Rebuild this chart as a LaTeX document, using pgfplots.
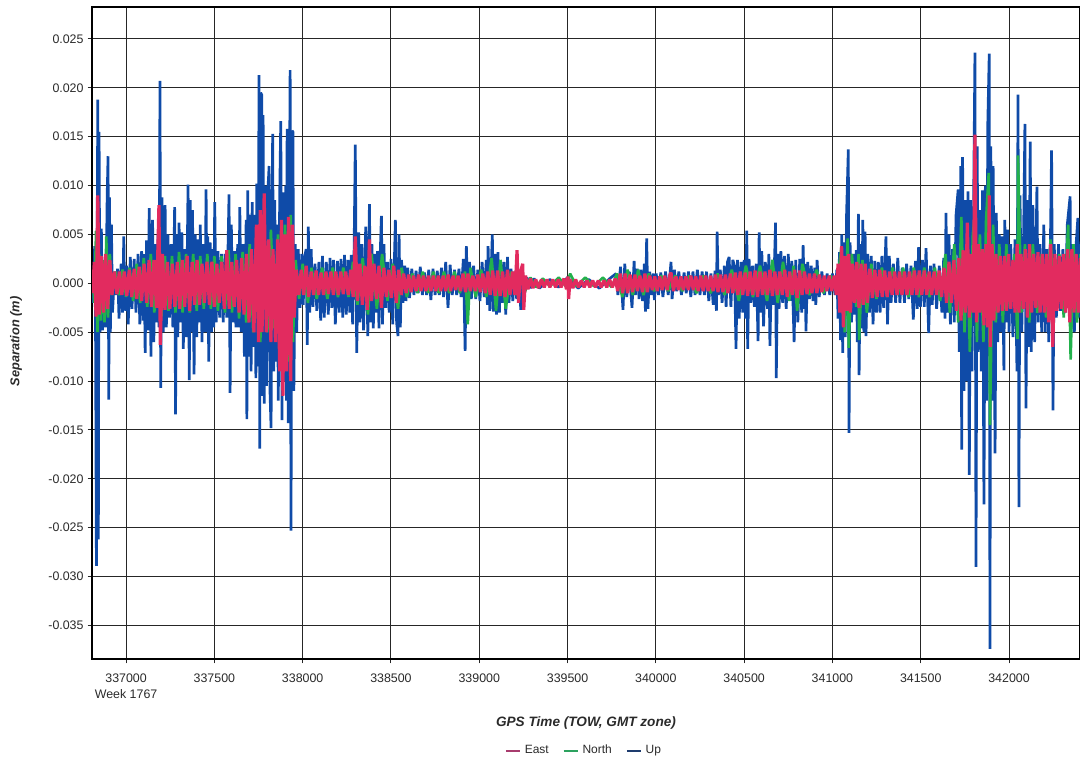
\documentclass[border=0pt]{standalone}
\usepackage{pgfplots}
\pgfplotsset{compat=1.18}
\usepackage{fontspec}
\setmainfont{Liberation Sans}
\definecolor{upc}{HTML}{0F4BA8}
\definecolor{northc}{HTML}{22B14C}
\definecolor{eastc}{HTML}{E22B5F}
\definecolor{gridc}{HTML}{262626}
\definecolor{txtc}{HTML}{2A2A2A}
\begin{document}
\begin{tikzpicture}
\useasboundingbox (0,0) rectangle (540pt,380.5pt);
\begin{axis}[
  at={(46pt,51pt)},anchor=south west,scale only axis,width=494pt,height=326pt,
  xmin=336807,xmax=342402,ymin=-0.03843,ymax=0.02827,
  xtick={337000,337500,338000,338500,339000,339500,340000,340500,341000,341500,342000},
  ytick={-0.035,-0.03,-0.025,-0.02,-0.015,-0.01,-0.005,0,0.005,0.01,0.015,0.02,0.025},
  tick align=outside,tick pos=left,major tick length=2.2pt,
  tick style={gridc,line width=0.5pt},
  grid=major,grid style={gridc,line width=0.5pt},
  axis line style={black,line width=1.1pt},
  scaled ticks=false,
  xticklabel style={/pgf/number format/.cd,assume math mode=true,1000 sep={},fixed,precision=0},
  yticklabel style={xshift=1.5pt,/pgf/number format/.cd,assume math mode=true,fixed,fixed zerofill,precision=3},
  tick label style={font=\fontsize{6.2}{7}\selectfont,text=txtc},
  xticklabel shift=1.5pt,
  xlabel={GPS Time (TOW, GMT zone)},
  ylabel={Separation (m)},
  label style={text=txtc},
  xlabel style={font=\fontsize{6.8}{7}\bfseries\itshape\selectfont,at={(axis description cs:0.5,-0.0985)},anchor=center},
  ylabel style={font=\fontsize{6.4}{7}\bfseries\itshape\selectfont,at={(axis description cs:-0.0769,0.487)},anchor=center},
  legend columns=3,
  legend image code/.code={\draw[#1] (0pt,0pt) -- (7pt,0pt);},
  legend style={draw=none,fill=none,at={(axis description cs:0.499,-0.1411)},anchor=center,font=\fontsize{6}{7}\selectfont,text=txtc,/tikz/every even column/.append style={column sep=5pt},inner sep=0pt},
  legend cell align=left,
  clip mode=individual,
]
\addlegendimage{line width=0.9pt,color={rgb,255:red,168;green,60;blue,110}}\addlegendentry{East}
\addlegendimage{line width=0.9pt,color={rgb,255:red,44;green,162;blue,95}}\addlegendentry{North}
\addlegendimage{line width=0.9pt,color={rgb,255:red,30;green,60;blue,110}}\addlegendentry{Up}
% Up
\addplot[forget plot,upc,line width=1.35pt,line join=bevel] coordinates {
(336812,0.0009)(336816,-0.0020)(336822,0.0038)(336827,-0.0040)(336832,-0.0289)(336836,0.0040)(336840,0.0188)(336843,-0.0262)(336847,0.0155)(336852,-0.0050)(336860,0.0056)(336866,-0.0048)(336876,0.0023)(336884,-0.0045)(336893,0.0090)(336898,0.0130)(336902,-0.0119)(336906,0.0088)(336911,-0.0050)(336917,0.0060)(336923,-0.0030)(336935,0.0012)(336943,-0.0012)(336952,0.0015)(336960,-0.0036)(336972,0.0020)(336980,-0.0030)(336987,0.0048)(336993,-0.0028)(337003,0.0018)(337012,-0.0042)(337024,0.0027)(337033,-0.0026)(337046,0.0025)(337056,-0.0030)(337068,0.0030)(337078,-0.0042)(337088,0.0033)(337097,-0.0038)
(337102,0.0030)(337108,-0.0071)(337116,0.0044)(337124,-0.0048)(337131,0.0077)(337141,-0.0075)(337150,0.0065)(337157,-0.0060)(337165,0.0040)(337173,-0.0040)(337181,0.0050)(337187,-0.0045)(337192,0.0207)(337196,-0.0107)(337203,0.0088)(337210,-0.0050)(337221,0.0080)(337228,-0.0045)(337237,0.0050)(337246,-0.0035)(337255,0.0040)(337265,-0.0045)(337275,0.0078)(337280,-0.0134)(337287,0.0050)(337293,-0.0055)(337300,0.0062)(337308,-0.0040)(337316,0.0052)(337324,-0.0067)(337333,0.0035)(337341,-0.0055)(337351,0.0101)(337358,-0.0099)(337363,0.0085)(337370,-0.0050)(337376,0.0075)(337385,-0.0093)(337392,0.0050)(337400,-0.0055)(337408,0.0045)(337415,-0.0040)(337420,0.0060)(337430,-0.0060)(337438,0.0040)(337446,-0.0050)(337453,0.0096)(337459,-0.0050)(337463,0.0048)(337468,-0.0080)(337476,0.0042)(337484,-0.0050)(337490,0.0035)(337496,-0.0045)(337502,0.0083)(337510,-0.0040)(337520,0.0033)(337530,-0.0035)(337540,0.0030)(337550,-0.0040)(337560,0.0030)(337570,-0.0035)(337583,0.0091)(337589,-0.0112)(337596,0.0060)(337604,-0.0040)(337614,0.0033)(337622,-0.0045)(337632,0.0040)(337638,-0.0045)(337644,0.0078)(337652,-0.0050)(337662,0.0040)(337670,-0.0075)(337680,0.0065)(337684,-0.0139)(337689,0.0095)(337695,-0.0075)(337704,0.0070)(337708,-0.0090)(337714,0.0083)(337720,-0.0065)(337730,0.0070)(337735,-0.0097)(337740,0.0102)(337747,-0.0085)(337753,0.0213)(337757,-0.0169)(337762,0.0195)(337768,0.0193)(337772,-0.0115)(337776,0.0172)(337782,-0.0123)(337790,0.0100)(337795,-0.0105)(337803,0.0095)(337810,0.0120)(337815,-0.0110)(337821,-0.0148)(337830,0.0153)(337836,-0.0090)(337842,0.0085)(337848,-0.0080)(337856,0.0060)(337862,-0.0120)(337870,0.0090)(337876,0.0166)(337883,-0.0140)(337890,0.0093)(337896,-0.0100)(337904,0.0100)(337908,-0.0120)(337912,0.0158)(337918,-0.0143)(337925,0.0090)(337929,0.0218)(337934,-0.0253)(337940,0.0156)(337945,0.0155)(337950,-0.0110)(337958,0.0040)(337966,-0.0050)
(337975,0.0035)(337985,-0.0025)(337995,0.0030)(338003,-0.0022)(338012,0.0028)(338020,0.0035)(338026,-0.0063)(338032,0.0058)(338040,-0.0030)(338048,0.0035)(338058,-0.0024)(338070,0.0020)(338080,-0.0028)(338092,0.0022)(338102,-0.0038)(338112,0.0028)(338122,-0.0035)(338134,0.0022)(338145,-0.0032)(338155,0.0026)(338165,-0.0025)(338175,0.0024)(338185,-0.0042)(338197,0.0023)(338207,-0.0030)(338217,0.0025)(338227,-0.0035)(338237,0.0029)(338247,-0.0032)(338257,0.0024)(338267,-0.0030)(338275,0.0029)(338283,-0.0042)(338291,0.0030)(338298,0.0142)(338306,-0.0071)(338317,0.0052)(338325,-0.0040)(338335,0.0040)(338345,-0.0048)(338357,0.0058)(338369,-0.0054)(338378,0.0081)(338385,-0.0040)(338392,0.0040)(338400,-0.0046)(338408,0.0030)(338416,-0.0030)(338424,0.0033)(338432,-0.0046)(338440,0.0035)(338446,0.0069)(338452,-0.0042)(338460,0.0040)(338470,-0.0025)(338480,0.0022)(338490,-0.0030)(338500,0.0025)(338510,-0.0042)(338519,0.0020)(338525,0.0065)(338532,-0.0040)(338540,-0.0054)(338546,0.0050)(338553,-0.0045)(338560,0.0024)(338568,-0.0020)(338578,0.0018)(338585,-0.0018)(338595,0.0016)
(338605,-0.0015)(338618,0.0015)(338630,-0.0012)(338642,0.0013)(338654,-0.0010)(338666,0.0017)(338678,-0.0012)(338690,0.0011)(338702,-0.0012)(338714,0.0014)(338726,-0.0017)(338738,0.0015)(338750,-0.0012)(338762,0.0013)(338774,-0.0012)(338786,0.0016)(338798,-0.0014)(338810,0.0022)(338823,-0.0025)(338835,0.0019)(338847,-0.0012)(338860,0.0014)(338872,-0.0012)(338885,0.0015)(338897,-0.0014)(338910,0.0025)(338920,-0.0069)(338927,0.0038)(338935,-0.0020)(338945,0.0022)(338955,-0.0016)(338968,0.0018)(338980,-0.0016)(338992,0.0014)(339004,-0.0018)(339016,0.0022)(339028,-0.0014)(339040,0.0024)(339046,-0.0022)(339050,0.0038)(339060,-0.0028)(339074,0.0050)(339080,-0.0029)(339090,0.0030)(339098,-0.0032)(339106,0.0032)(339114,-0.0030)(339122,0.0022)(339130,-0.0020)(339140,0.0022)(339150,-0.0032)(339160,0.0027)(339168,-0.0020)(339180,0.0015)(339190,-0.0018)(339200,0.0012)(339212,-0.0016)(339225,0.0012)(339235,-0.0027)(339245,0.0010)(339255,-0.0012)(339270,0.0006)(339290,-0.0005)(339310,0.0005)(339340,-0.0005)(339400,0.0004)(339450,-0.0004)(339500,0.0006)(339560,-0.0005)(339620,0.0004)(339680,-0.0005)(339740,0.0005)(339775,0.0010)(339785,-0.0012)
(339800,0.0017)(339814,-0.0027)(339824,0.0020)(339835,-0.0014)(339850,0.0012)(339865,-0.0025)(339877,0.0023)(339884,-0.0012)(339895,0.0015)(339905,-0.0016)(339915,0.0014)(339925,-0.0018)(339935,0.0020)(339941,-0.0029)(339948,0.0046)(339955,-0.0026)(339965,0.0012)(339975,-0.0012)(339985,0.0010)(339992,-0.0017)(340002,0.0010)(340015,-0.0012)(340028,0.0011)(340040,-0.0014)(340055,0.0012)(340070,-0.0012)(340086,0.0022)(340092,-0.0016)(340105,0.0014)(340118,-0.0008)(340130,0.0012)(340145,-0.0012)(340160,0.0011)(340172,-0.0010)(340185,0.0012)(340198,-0.0014)(340210,0.0012)(340222,-0.0012)(340235,0.0014)(340250,-0.0012)(340262,0.0012)(340275,-0.0012)(340287,0.0012)(340300,-0.0018)(340312,0.0010)(340325,-0.0022)(340335,0.0013)(340343,-0.0028)(340347,0.0053)(340354,-0.0012)(340365,0.0014)(340375,-0.0020)(340388,0.0018)(340398,-0.0024)(340406,0.0022)(340415,0.0027)(340425,-0.0024)(340436,0.0024)(340445,0.0018)(340454,-0.0067)(340462,0.0024)(340472,-0.0036)(340482,0.0022)(340492,-0.0030)(340500,0.0024)(340508,-0.0036)(340515,0.0054)(340520,-0.0067)(340528,0.0025)(340538,-0.0020)(340548,0.0018)(340558,-0.0024)(340568,0.0020)(340579,-0.0059)(340585,0.0052)(340592,-0.0030)(340600,0.0033)(340610,-0.0044)(340620,0.0022)(340632,-0.0026)(340640,0.0030)(340646,-0.0064)(340655,0.0018)(340665,-0.0022)(340678,0.0062)(340682,-0.0097)(340690,0.0030)(340698,-0.0026)(340708,0.0033)(340718,-0.0020)(340728,0.0028)(340738,-0.0026)(340750,0.0030)(340760,-0.0018)(340770,0.0023)(340783,-0.0060)(340792,0.0024)(340804,-0.0040)(340815,0.0025)(340826,-0.0030)(340834,0.0039)(340842,-0.0026)(340846,0.0020)(340850,-0.0049)(340860,0.0022)(340870,-0.0016)(340880,0.0018)(340890,-0.0018)(340900,0.0016)(340906,-0.0022)(340913,0.0024)(340925,-0.0014)(340940,0.0012)(340955,-0.0012)(340970,0.0010)(340985,-0.0012)(341000,0.0010)(341015,-0.0012)(341025,0.0014)(341032,-0.0036)(341040,0.0032)(341046,-0.0058)(341053,0.0050)(341058,-0.0071)(341065,0.0042)(341072,-0.0055)(341080,0.0070)(341090,0.0137)(341094,-0.0153)(341100,0.0042)(341108,-0.0040)(341118,0.0030)(341126,-0.0032)(341135,0.0034)(341141,-0.0060)(341147,0.0071)(341151,-0.0094)(341158,0.0040)(341166,-0.0046)(341172,0.0065)(341178,-0.0050)(341185,0.0053)(341190,-0.0054)(341200,0.0030)(341210,-0.0030)(341220,0.0028)(341230,-0.0042)(341240,0.0023)(341250,-0.0030)(341260,0.0022)(341270,-0.0030)(341280,0.0028)(341290,-0.0025)(341303,0.0048)(341312,-0.0042)(341322,0.0028)(341332,-0.0020)(341345,0.0020)(341358,-0.0020)(341370,0.0026)(341382,-0.0020)(341395,0.0016)(341408,-0.0020)(341420,0.0020)(341432,-0.0016)(341445,0.0018)(341458,-0.0037)(341470,0.0023)(341480,-0.0026)(341488,0.0037)(341498,-0.0024)(341510,0.0024)(341520,-0.0024)(341530,0.0036)(341545,-0.0051)(341555,0.0018)(341565,-0.0022)(341575,0.0020)(341590,-0.0026)(341605,0.0018)(341620,-0.0030)(341630,0.0026)(341638,-0.0036)(341643,0.0072)(341650,-0.0030)(341660,0.0050)(341668,-0.0042)(341680,0.0035)(341690,-0.0040)(341700,0.0070)(341712,0.0096)(341718,-0.0070)(341727,0.0120)(341732,-0.0170)(341737,0.0129)(341745,-0.0110)(341755,0.0085)(341762,-0.0100)(341768,0.0094)(341775,-0.0196)(341782,0.0085)(341790,-0.0090)(341800,0.0090)(341807,0.0236)(341813,-0.0290)(341820,0.0140)(341825,-0.0070)(341835,0.0075)(341843,-0.0090)(341850,0.0095)(341858,-0.0226)(341866,0.0100)(341872,-0.0120)(341880,0.0165)(341888,0.0235)(341892,-0.0374)(341897,0.0140)(341903,-0.0120)(341910,0.0120)(341921,-0.0174)(341928,0.0072)(341936,-0.0060)(341945,0.0050)(341953,-0.0050)(341962,0.0048)(341971,-0.0089)(341976,0.0065)(341985,-0.0040)(341992,0.0055)(342000,-0.0050)(342010,0.0040)(342022,-0.0055)(342034,0.0045)(342045,-0.0090)(342051,0.0193)(342056,-0.0229)(342062,0.0090)(342072,-0.0050)(342082,0.0040)(342090,0.0163)(342096,-0.0128)(342105,0.0085)(342112,-0.0065)(342120,0.0145)(342126,-0.0070)(342135,0.0080)(342145,-0.0060)(342158,0.0099)(342165,-0.0040)(342175,0.0040)(342185,-0.0050)(342197,0.0060)(342205,-0.0050)(342215,0.0035)(342225,-0.0060)(342235,0.0050)(342241,0.0136)(342249,-0.0130)(342256,0.0040)(342268,-0.0035)(342280,0.0040)(342292,-0.0028)(342305,0.0035)(342318,-0.0030)(342330,0.0060)(342346,0.0089)(342350,-0.0050)(342360,0.0040)(342370,-0.0050)(342380,0.0040)(342390,0.0067)(342396,-0.0035)(342405,0.0040)
};
% North
\addplot[forget plot,northc,line width=1.3pt,line join=bevel] coordinates {
(336810,0.0012)(336820,-0.0020)(336830,0.0054)(336838,-0.0050)(336848,0.0030)(336858,-0.0038)(336868,0.0024)(336878,-0.0040)(336888,0.0048)(336898,-0.0035)(336908,0.0030)(336920,-0.0012)(336940,0.0012)(336960,-0.0012)(336980,0.0014)(337000,-0.0014)(337020,0.0016)(337040,-0.0018)(337060,0.0020)(337080,-0.0020)(337100,0.0026)(337120,-0.0024)(337140,0.0030)(337160,-0.0030)(337180,0.0030)(337200,-0.0034)(337220,0.0028)(337240,-0.0028)(337260,0.0028)(337280,-0.0030)(337300,0.0032)(337320,-0.0030)(337340,0.0030)(337360,-0.0030)(337380,0.0030)(337400,-0.0028)(337420,0.0028)(337440,-0.0026)(337460,0.0030)(337480,-0.0026)(337500,0.0028)(337520,-0.0028)(337540,0.0028)(337560,-0.0030)(337580,0.0034)(337600,-0.0030)(337620,0.0030)(337640,-0.0036)(337660,0.0032)(337680,-0.0040)(337700,0.0040)(337720,-0.0050)(337740,0.0050)(337760,-0.0060)(337780,0.0040)(337800,-0.0050)(337820,0.0055)(337840,-0.0046)(337860,0.0050)(337880,-0.0070)(337900,0.0060)(337920,-0.0080)(337932,0.0070)(337945,-0.0060)(337960,0.0024)(337980,-0.0016)(338000,0.0020)(338030,-0.0020)(338050,0.0016)(338080,-0.0016)(338110,0.0016)(338140,-0.0016)(338170,0.0016)(338200,-0.0014)(338230,0.0016)(338260,-0.0014)(338285,0.0022)(338310,-0.0022)(338340,0.0026)(338370,-0.0032)(338390,0.0030)(338420,-0.0026)(338450,0.0030)(338480,-0.0018)(338510,0.0020)(338540,-0.0026)(338560,0.0016)(338590,-0.0014)(338620,0.0010)(338650,-0.0010)(338680,0.0012)(338710,-0.0010)(338740,0.0012)(338770,-0.0010)(338800,0.0012)(338830,-0.0010)(338860,0.0012)(338890,-0.0010)(338920,0.0012)(338935,-0.0042)(338950,0.0016)(338980,-0.0014)(339010,0.0014)(339040,-0.0014)(339070,0.0026)(339095,-0.0028)(339120,0.0024)(339150,-0.0026)(339180,0.0012)(339210,-0.0012)(339240,0.0016)(339260,-0.0008)(339290,0.0006)(339320,-0.0004)(339360,0.0005)(339400,-0.0003)(339450,0.0006)(339490,-0.0003)(339515,0.0010)(339550,-0.0003)(339600,0.0006)(339650,-0.0003)(339700,0.0006)(339750,-0.0004)(339780,0.0010)(339810,-0.0014)(339840,0.0014)(339870,-0.0012)(339900,0.0014)(339930,-0.0012)(339960,0.0010)(339990,-0.0008)(340030,0.0008)(340070,-0.0008)(340110,0.0008)(340150,-0.0008)(340190,0.0008)(340230,-0.0010)(340270,0.0008)(340310,-0.0010)(340350,0.0010)(340390,-0.0012)(340430,0.0014)(340470,-0.0018)(340510,0.0018)(340550,-0.0014)(340590,0.0018)(340630,-0.0018)(340660,0.0024)(340690,-0.0020)(340720,0.0022)(340755,-0.0018)(340780,0.0018)(340800,-0.0028)(340830,0.0020)(340870,-0.0012)(340910,0.0014)(340950,-0.0010)(340990,0.0008)(341020,-0.0008)(341050,0.0036)(341070,-0.0050)(341086,0.0046)(341092,-0.0066)(341110,0.0030)(341135,-0.0024)(341148,0.0030)(341151,-0.0058)(341170,0.0024)(341195,-0.0030)(341220,0.0020)(341250,-0.0016)(341280,0.0016)(341310,-0.0014)(341340,0.0016)(341370,-0.0012)(341400,0.0016)(341430,-0.0014)(341460,0.0016)(341490,-0.0014)(341520,0.0016)(341550,-0.0014)(341580,0.0016)(341610,-0.0018)(341640,0.0030)(341665,-0.0030)(341690,0.0040)(341712,-0.0040)(341730,0.0068)(341748,-0.0050)(341765,0.0040)(341778,-0.0070)(341795,0.0050)(341807,0.0072)(341818,-0.0060)(341835,0.0050)(341855,-0.0060)(341870,0.0065)(341885,0.0113)(341892,-0.0145)(341910,0.0060)(341925,-0.0040)(341945,0.0040)(341965,-0.0040)(341985,0.0040)(342005,-0.0025)(342030,0.0030)(342048,-0.0057)(342051,0.0131)(342070,-0.0030)(342090,0.0040)(342115,-0.0040)(342135,0.0040)(342160,-0.0030)(342185,0.0030)(342210,-0.0035)(342235,0.0045)(342260,-0.0025)(342285,0.0030)(342310,-0.0035)(342335,0.0060)(342349,-0.0078)(342365,0.0040)(342385,-0.0040)(342405,0.0030)
};
% East
\addplot[forget plot,eastc,line width=1.6pt,line join=bevel] coordinates {
(336810,-0.0010)(336820,0.0022)(336830,-0.0034)(336840,0.0090)(336848,-0.0032)(336860,0.0028)(336872,-0.0030)(336884,0.0030)(336896,-0.0026)(336908,0.0024)(336920,-0.0012)(336934,0.0012)(336948,-0.0011)(336962,0.0012)(336976,-0.0012)(336990,0.0012)(337004,-0.0013)(337018,0.0014)(337032,-0.0014)(337046,0.0015)(337060,-0.0016)(337074,0.0017)(337088,-0.0018)(337102,0.0020)(337116,-0.0020)(337130,0.0024)(337144,-0.0024)(337158,0.0024)(337172,-0.0025)(337186,0.0080)(337194,-0.0063)(337206,0.0030)(337220,-0.0027)(337234,0.0022)(337248,-0.0026)(337262,0.0020)(337276,-0.0024)(337290,0.0022)(337304,-0.0026)(337318,0.0024)(337332,-0.0024)(337346,0.0028)(337360,-0.0028)(337374,0.0022)(337388,-0.0022)(337402,0.0024)(337416,-0.0022)(337430,0.0020)(337444,-0.0020)(337458,0.0022)(337472,-0.0022)(337486,0.0022)(337500,-0.0024)(337514,0.0020)(337528,-0.0020)(337542,0.0022)(337556,-0.0026)(337570,0.0034)(337584,-0.0026)(337598,0.0022)(337612,-0.0024)(337626,0.0024)(337640,-0.0030)(337654,0.0026)(337668,-0.0032)(337682,0.0030)(337696,-0.0040)(337710,0.0035)(337724,-0.0050)(337738,0.0060)(337750,-0.0060)(337760,0.0075)(337770,-0.0050)(337782,0.0092)(337794,-0.0050)(337808,0.0045)(337820,-0.0060)(337832,0.0035)(337846,-0.0060)(337858,0.0045)(337870,-0.0090)(337880,0.0065)(337888,-0.0115)(337898,0.0050)(337908,-0.0090)(337920,0.0068)(337932,-0.0100)(337942,0.0060)(337952,-0.0035)(337964,0.0014)(337978,-0.0012)(337992,0.0014)(338006,-0.0012)(338020,0.0018)(338034,-0.0014)(338048,0.0012)(338062,-0.0012)(338076,0.0013)(338090,-0.0012)(338104,0.0011)(338118,-0.0012)(338132,0.0012)(338146,-0.0011)(338160,0.0012)(338174,-0.0012)(338188,0.0012)(338202,-0.0012)(338216,0.0012)(338230,-0.0011)(338244,0.0012)(338258,-0.0012)(338272,0.0014)(338286,-0.0014)(338298,0.0048)(338310,-0.0018)(338324,0.0020)(338338,-0.0022)(338352,0.0018)(338366,-0.0027)(338378,0.0045)(338390,-0.0018)(338404,0.0020)(338418,-0.0016)(338432,0.0018)(338446,-0.0025)(338460,0.0016)(338474,-0.0014)(338488,0.0014)(338502,-0.0015)(338516,0.0018)(338530,-0.0020)(338544,0.0014)(338558,-0.0012)(338572,0.0010)(338586,-0.0010)(338600,0.0009)(338614,-0.0009)(338628,0.0008)(338642,-0.0008)(338656,0.0009)(338670,-0.0008)(338684,0.0008)(338698,-0.0008)(338712,0.0008)(338726,-0.0008)(338740,0.0008)(338754,-0.0008)(338768,0.0008)(338782,-0.0008)(338796,0.0008)(338810,-0.0008)(338824,0.0009)(338838,-0.0008)(338852,0.0008)(338866,-0.0007)(338880,0.0008)(338894,-0.0008)(338908,0.0010)(338922,-0.0009)(338936,0.0010)(338950,-0.0008)(338964,0.0008)(338978,-0.0008)(338992,0.0009)(339006,-0.0009)(339020,0.0010)(339034,-0.0010)(339048,0.0012)(339062,-0.0012)(339076,0.0013)(339090,-0.0013)(339104,0.0013)(339118,-0.0013)(339132,0.0012)(339146,-0.0014)(339160,0.0014)(339174,-0.0012)(339188,0.0012)(339202,-0.0012)(339214,0.0034)(339222,-0.0020)(339234,0.0012)(339246,0.0020)(339252,-0.0027)(339262,0.0008)(339276,-0.0006)(339290,0.0005)(339304,-0.0005)(339320,0.0004)(339336,-0.0005)(339352,0.0004)(339368,-0.0004)(339384,0.0004)(339400,-0.0004)(339416,0.0004)(339432,-0.0004)(339448,0.0004)(339464,-0.0004)(339480,0.0005)(339494,-0.0006)(339502,0.0007)(339506,-0.0016)(339514,0.0004)(339530,-0.0005)(339546,0.0004)(339562,-0.0004)(339578,0.0003)(339594,-0.0004)(339610,0.0003)(339626,-0.0004)(339642,0.0003)(339658,-0.0004)(339674,0.0003)(339690,-0.0004)(339706,0.0003)(339722,-0.0004)(339738,0.0004)(339754,-0.0004)(339770,0.0005)(339784,-0.0008)(339798,0.0010)(339812,-0.0010)(339826,0.0010)(339840,-0.0010)(339854,0.0009)(339868,-0.0009)(339882,0.0009)(339896,-0.0008)(339910,0.0008)(339924,-0.0009)(339938,0.0010)(339952,-0.0009)(339966,0.0008)(339980,-0.0007)(339994,0.0007)(340008,-0.0008)(340022,0.0007)(340036,-0.0007)(340050,0.0008)(340064,-0.0007)(340078,0.0008)(340086,0.0011)(340100,-0.0008)(340114,0.0007)(340128,-0.0007)(340142,0.0007)(340156,-0.0007)(340170,0.0007)(340184,-0.0007)(340198,0.0008)(340212,-0.0007)(340226,0.0007)(340240,-0.0008)(340254,0.0008)(340268,-0.0008)(340282,0.0008)(340296,-0.0008)(340310,0.0008)(340324,-0.0008)(340338,0.0009)(340352,-0.0009)(340366,0.0009)(340380,-0.0009)(340394,0.0009)(340408,-0.0010)(340422,0.0010)(340436,-0.0010)(340450,0.0011)(340464,-0.0012)(340478,0.0012)(340492,-0.0012)(340506,0.0011)(340520,-0.0013)(340534,0.0012)(340548,-0.0012)(340562,0.0013)(340576,-0.0014)(340590,0.0012)(340604,-0.0012)(340618,0.0012)(340632,-0.0012)(340646,0.0014)(340660,-0.0013)(340674,0.0012)(340688,-0.0012)(340702,0.0012)(340716,-0.0012)(340730,0.0014)(340744,-0.0014)(340758,0.0012)(340772,-0.0012)(340786,0.0014)(340800,-0.0015)(340814,0.0013)(340828,-0.0012)(340842,0.0012)(340856,-0.0011)(340870,0.0010)(340884,-0.0010)(340898,0.0010)(340912,-0.0010)(340926,0.0009)(340940,-0.0009)(340954,0.0008)(340968,-0.0008)(340982,0.0008)(340996,-0.0008)(341010,0.0008)(341022,-0.0012)(341032,0.0020)(341042,-0.0030)(341052,0.0038)(341062,-0.0045)(341072,0.0028)(341082,-0.0028)(341092,0.0030)(341102,-0.0030)(341114,0.0020)(341126,-0.0020)(341138,0.0022)(341150,-0.0025)(341162,0.0020)(341174,-0.0022)(341186,0.0020)(341198,-0.0020)(341212,0.0015)(341226,-0.0015)(341240,0.0014)(341254,-0.0014)(341268,0.0014)(341282,-0.0014)(341296,0.0013)(341310,-0.0014)(341324,0.0012)(341338,-0.0012)(341352,0.0012)(341366,-0.0012)(341380,0.0012)(341394,-0.0012)(341408,0.0012)(341422,-0.0012)(341436,0.0012)(341450,-0.0012)(341464,0.0013)(341478,-0.0012)(341492,0.0013)(341506,-0.0012)(341520,0.0013)(341534,-0.0012)(341548,0.0012)(341562,-0.0012)(341576,0.0012)(341590,-0.0012)(341604,0.0013)(341618,-0.0014)(341632,0.0016)(341646,-0.0020)(341660,0.0022)(341674,-0.0020)(341688,0.0024)(341702,-0.0028)(341716,0.0026)(341728,-0.0038)(341740,0.0034)(341752,-0.0030)(341764,0.0062)(341775,-0.0035)(341786,0.0030)(341797,-0.0030)(341807,0.0152)(341816,-0.0040)(341826,0.0040)(341836,-0.0030)(341848,0.0035)(341858,-0.0043)(341870,0.0040)(341880,-0.0045)(341888,0.0090)(341894,-0.0065)(341904,0.0040)(341914,-0.0038)(341926,0.0030)(341938,-0.0030)(341950,0.0028)(341962,-0.0028)(341974,0.0028)(341986,-0.0028)(341998,0.0030)(342010,-0.0026)(342022,0.0024)(342034,-0.0030)(342046,0.0040)(342056,-0.0030)(342068,0.0030)(342080,-0.0026)(342092,0.0035)(342104,-0.0035)(342116,0.0040)(342128,-0.0030)(342140,0.0030)(342152,-0.0025)(342164,0.0032)(342176,-0.0030)(342188,0.0030)(342200,-0.0030)(342212,0.0030)(342224,-0.0040)(342236,0.0040)(342248,-0.0065)(342260,0.0030)(342272,-0.0028)(342284,0.0028)(342296,-0.0026)(342308,0.0030)(342320,-0.0030)(342332,0.0035)(342344,-0.0040)(342356,0.0035)(342368,-0.0030)(342380,0.0030)(342392,-0.0030)(342404,0.0026)
};
\node[font=\fontsize{6.2}{7}\selectfont,text=txtc] at (axis cs:337000,-0.04203) {Week 1767};
\end{axis}
\end{tikzpicture}
\end{document}
